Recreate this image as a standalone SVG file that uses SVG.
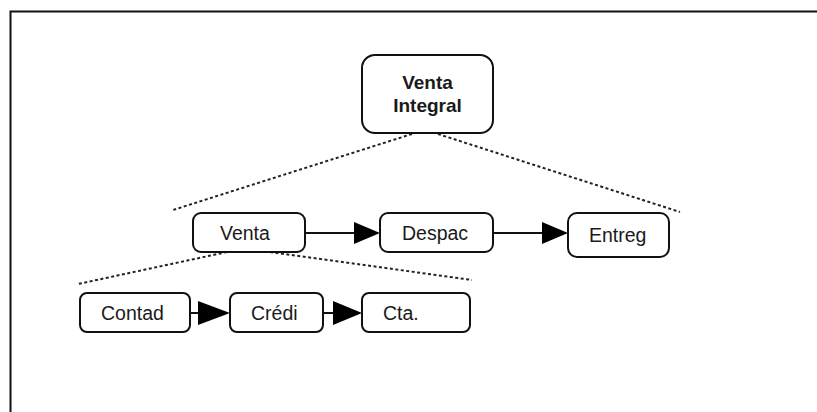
<svg xmlns="http://www.w3.org/2000/svg" width="817" height="412" viewBox="0 0 817 412">
<defs>
<style>
.box{fill:#fff;stroke:#111;stroke-width:2}
.t{font-family:"Liberation Sans",Arial,sans-serif;font-size:19.5px;fill:#1a1a1a}
.b{font-weight:bold;text-anchor:middle;font-size:19px}
.dot{stroke:#222;stroke-width:2;stroke-dasharray:3 2.5;fill:none}
.ln{stroke:#111;stroke-width:2;fill:none}
</style>
</defs>
<rect width="817" height="412" fill="#fff"/>
<path d="M10.5,412 V11.5 H817" fill="none" stroke="#111" stroke-width="2"/>
<g id="connectors">
<line class="dot" x1="412" y1="134" x2="173" y2="210"/>
<line class="dot" x1="438" y1="134" x2="680" y2="212"/>
<line class="dot" x1="227" y1="252" x2="78" y2="284"/>
<line class="dot" x1="270" y1="252" x2="472" y2="280"/>
<line class="ln" x1="305" y1="233" x2="356" y2="233"/>
<path d="M354,222 L380,233 L354,244 Z" fill="#000"/>
<line class="ln" x1="493" y1="233" x2="544" y2="233"/>
<path d="M542,222 L568,233 L542,244 Z" fill="#000"/>
<line class="ln" x1="190" y1="313" x2="202" y2="313"/>
<path d="M198,301 L230,313 L198,325 Z" fill="#000"/>
<line class="ln" x1="323" y1="313" x2="337" y2="313"/>
<path d="M333,301 L362,313 L333,325 Z" fill="#000"/>
</g>
<g id="venta-integral">
<rect class="box" x="362" y="55" width="131" height="78" rx="13"/>
<text class="t b" x="427.5" y="89">Venta</text>
<text class="t b" x="427.5" y="112">Integral</text>
</g>
<g id="venta">
<rect class="box" x="193" y="213" width="112" height="39" rx="8"/>
<text class="t" x="220" y="240">Venta</text>
</g>
<g id="despac">
<rect class="box" x="380" y="213" width="113" height="39" rx="8"/>
<text class="t" x="402" y="240">Despac</text>
</g>
<g id="entreg">
<rect class="box" x="568" y="213" width="101" height="44" rx="9"/>
<text class="t" x="589" y="242">Entreg</text>
</g>
<g id="contad">
<rect class="box" x="80" y="293" width="110" height="39" rx="7"/>
<text class="t" x="101" y="320">Contad</text>
</g>
<g id="credi">
<rect class="box" x="230" y="293" width="93" height="39" rx="7"/>
<text class="t" x="251" y="320">Crédi</text>
</g>
<g id="cta">
<rect class="box" x="362" y="293" width="108" height="39" rx="7"/>
<text class="t" x="383" y="320">Cta.</text>
</g>
</svg>
